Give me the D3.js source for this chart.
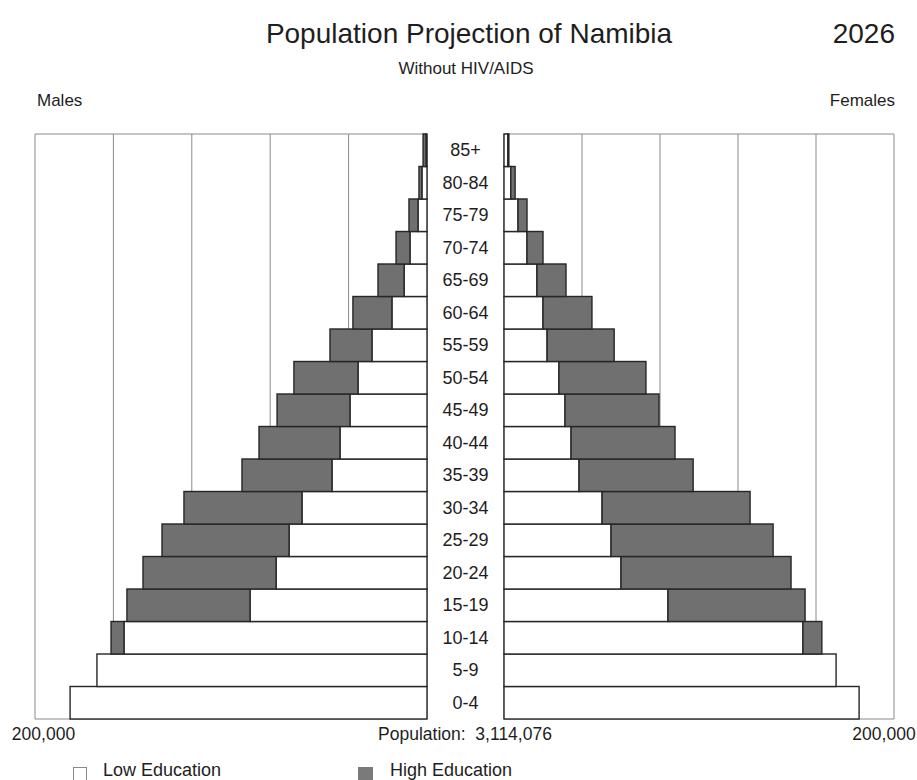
<!DOCTYPE html>
<html>
<head>
<meta charset="utf-8">
<script src="https://cdn.jsdelivr.net/npm/d3@7"></script>
<style>
  html, body { margin: 0; padding: 0; background: #fff; }
  svg { display: block; font-family: "Liberation Sans", Arial, sans-serif; }
</style>
</head>
<body>
<svg id="chart" width="917" height="780"></svg>
<script>
// ---- Data (bottom to top) ----
const ages = ["0-4","5-9","10-14","15-19","20-24","25-29","30-34","35-39","40-44","45-49","50-54","55-59","60-64","65-69","70-74","75-79","80-84","85+"];
const maleLow    = [182100,168400,154600,90300,77000,70400,63800,48500,44400,39300,35200,28100,17900,11700,8700,4600,2600,500];
const maleHigh   = [0,0,6600,62800,67900,64800,60200,45900,41300,37200,32700,21400,19900,13300,7100,4600,1500,1500];
const femaleLow  = [182100,170300,153300,84100,60000,54900,50300,38500,34400,31300,28200,22100,20000,16900,11800,7200,3500,2000];
const femaleHigh = [0,0,9700,70300,87200,83100,75900,58500,53300,48200,44600,34400,25100,14900,8200,4600,2200,500];
const gridTicks = [0,40000,80000,120000,160000,200000];
const axisMaxLabel = "200,000";
const titleText = "Population Projection of Namibia";
const yearText = "2026";
const subtitleText = "Without HIV/AIDS";
const totalText = "Population:  3,114,076";
const legendLabels = ["Low Education","High Education"];

const lowColor = "#ffffff";
const highColor = "#707070";
const textColor = "#1e1e1e";

const svg = d3.select("#chart");

const xL = d3.scaleLinear().domain([0,200000]).range([427,35]);
const xR = d3.scaleLinear().domain([0,200000]).range([504,894]);
const y = d3.scaleBand().domain(ages.slice().reverse()).range([134,719]).padding(0);

// Grid lines
const gridG = svg.append("g");
gridTicks.forEach(t => {
  gridG.append("line").attr("x1",xL(t)).attr("x2",xL(t)).attr("y1",134).attr("y2",719)
    .attr("stroke","#8a8a8a").attr("stroke-width",1);
  gridG.append("line").attr("x1",xR(t)).attr("x2",xR(t)).attr("y1",134).attr("y2",719)
    .attr("stroke","#8a8a8a").attr("stroke-width",1);
});
[[35,427],[504,894]].forEach(([a,b]) => {
  gridG.append("line").attr("x1",a).attr("x2",b).attr("y1",134).attr("y2",134).attr("stroke","#8a8a8a");
  gridG.append("line").attr("x1",a).attr("x2",b).attr("y1",719).attr("y2",719).attr("stroke","#8a8a8a");
});

// Bars
const barsG = svg.append("g").attr("stroke","#262626").attr("stroke-width",1.4);
const rows = ages.map((a,i) => ({age:a, ml:maleLow[i], mh:maleHigh[i], fl:femaleLow[i], fh:femaleHigh[i]}));

rows.forEach(d => {
  const yy = y(d.age), h = y.bandwidth();
  if (d.ml > 0) barsG.append("rect").attr("x", xL(d.ml)).attr("y", yy).attr("width", xL(0)-xL(d.ml)).attr("height", h).attr("fill", lowColor);
  if (d.mh > 0) barsG.append("rect").attr("x", xL(d.ml+d.mh)).attr("y", yy).attr("width", xL(d.ml)-xL(d.ml+d.mh)).attr("height", h).attr("fill", highColor);
  if (d.fl > 0) barsG.append("rect").attr("x", xR(0)).attr("y", yy).attr("width", xR(d.fl)-xR(0)).attr("height", h).attr("fill", lowColor);
  if (d.fh > 0) barsG.append("rect").attr("x", xR(d.fl)).attr("y", yy).attr("width", xR(d.fl+d.fh)-xR(d.fl)).attr("height", h).attr("fill", highColor);
});

// Age labels
svg.append("g").selectAll("text").data(ages).join("text")
  .attr("x", 465.5).attr("y", d => y(d) + y.bandwidth()/2 + 6)
  .attr("text-anchor","middle").attr("font-size",18).attr("fill",textColor)
  .text(d => d);

// Titles
svg.append("text").attr("x",469).attr("y",43).attr("text-anchor","middle").attr("font-size",28).attr("fill",textColor).text(titleText);
svg.append("text").attr("x",895).attr("y",43).attr("text-anchor","end").attr("font-size",28).attr("fill",textColor).text(yearText);
svg.append("text").attr("x",466).attr("y",74).attr("text-anchor","middle").attr("font-size",17).attr("fill",textColor).text(subtitleText);
svg.append("text").attr("x",37).attr("y",106).attr("font-size",17).attr("fill",textColor).text("Males");
svg.append("text").attr("x",895).attr("y",106).attr("text-anchor","end").attr("font-size",17).attr("fill",textColor).text("Females");

// Axis labels
svg.append("text").attr("x",43.5).attr("y",740).attr("text-anchor","middle").attr("font-size",17.5).attr("fill",textColor).text(axisMaxLabel);
svg.append("text").attr("x",884).attr("y",740).attr("text-anchor","middle").attr("font-size",17.5).attr("fill",textColor).text(axisMaxLabel);
svg.append("text").attr("x",465).attr("y",740).attr("text-anchor","middle").attr("font-size",17.5).attr("fill",textColor).attr("xml:space","preserve").text(totalText);

// Legend
const leg = svg.append("g");
leg.append("rect").attr("x",73.5).attr("y",767.5).attr("width",13).attr("height",14).attr("fill",lowColor).attr("stroke","#8a8a8a");
leg.append("text").attr("x",103).attr("y",776).attr("font-size",18).attr("fill",textColor).text(legendLabels[0]);
leg.append("rect").attr("x",358).attr("y",767).attr("width",15).attr("height",14).attr("fill","#7a7a7a");
leg.append("text").attr("x",390).attr("y",776).attr("font-size",18).attr("fill",textColor).text(legendLabels[1]);
</script>
</body>
</html>
